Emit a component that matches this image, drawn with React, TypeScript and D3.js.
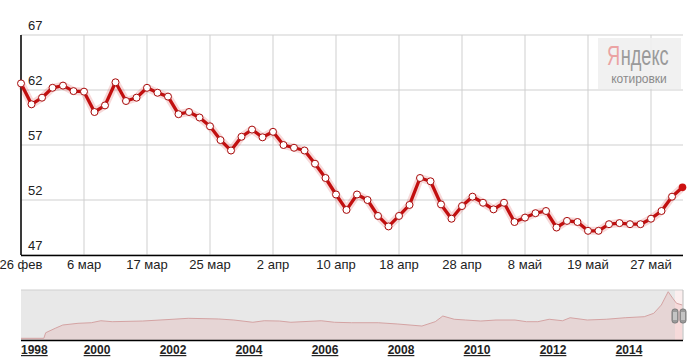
import React from 'react';
import * as d3 from 'd3';

// daily USD/RUB closes, 26 Feb - 1 Jun (trading days)
const rates = [
  62.6, 60.7, 61.3, 62.2, 62.4, 61.9, 61.85, 60.0, 60.6, 62.7,
  61.0, 61.3, 62.2, 61.75, 61.4, 59.8, 60.0, 59.5, 58.7, 57.45,
  56.5, 57.75, 58.4, 57.7, 58.2, 57.0, 56.75, 56.5, 55.3, 54.0,
  52.5, 51.1, 52.5, 52.0, 50.55, 49.6, 50.55, 51.55, 54.0, 53.7,
  51.6, 50.3, 51.45, 52.3, 51.75, 51.15, 51.75, 50.0, 50.4, 50.8,
  51.0, 49.5, 50.1, 50.0, 49.2, 49.2, 49.8, 49.9, 49.8, 49.8,
  50.3, 51.0, 52.3, 53.15,
];
const dateLabels = ['26 фев', '6 мар', '17 мар', '25 мар', '2 апр', '10 апр', '18 апр', '28 апр', '8 май', '19 май', '27 май'];
const yTicks = [47, 52, 57, 62, 67];

// long-term navigator series
const navYears = [
  1998.0, 1998.6, 1998.65, 1998.9, 1999.1, 1999.5, 1999.85, 2000.1, 2000.4, 2001.2,
  2002.0, 2002.4, 2003.2, 2003.6, 2004.1, 2004.4, 2004.8, 2005.1, 2005.9, 2006.25,
  2006.7, 2007.4, 2007.9, 2008.55, 2008.9, 2009.1, 2009.4, 2009.7, 2010.1, 2010.5,
  2011.0, 2011.3, 2011.6, 2011.9, 2012.25, 2012.45, 2012.9, 2013.4, 2013.9, 2014.4,
  2014.65, 2014.85, 2015.03, 2015.15, 2015.25, 2015.4,
];
const navValues = [
  6.3, 6.3, 13.9, 19.9, 24.4, 26.7, 27.5, 30.2, 28.9, 29.8,
  32.2, 33.5, 32.6, 31.2, 28.1, 30.2, 29.8, 28.1, 30.2, 28.1,
  27.5, 27.5, 25.8, 23.0, 28.9, 36.6, 32.2, 31.2, 29.8, 31.2,
  31.2, 28.9, 28.9, 32.2, 30.2, 34.3, 31.2, 32.2, 34.3, 35.7,
  40.3, 51.6, 69.7, 60.7, 53.9, 51.6,
];
const navYearLabels = [1998, 2000, 2002, 2004, 2006, 2008, 2010, 2012, 2014];

const font = 'Arial, "Liberation Sans", sans-serif';

const App = () => {
  const left = 21, right = 683;
  const x = d3.scaleLinear().domain([0, rates.length - 1]).range([left, 682.5]);
  const y = d3.scaleLinear().domain([47, 67]).range([255, 35]);

  const line = d3.line<number>()
    .x((d, i) => x(i))
    .y(d => y(d));

  const nx = d3.scaleLinear().domain([1998.0, 2015.42]).range([left, right]);
  const ny = d3.scaleLinear().domain([4, 72]).range([340, 290]);
  const navPts = navYears.map((yr, i) => [yr, navValues[i]] as [number, number]);
  const navLine = d3.line<[number, number]>().x(d => nx(d[0])).y(d => ny(d[1]));
  const navArea = d3.area<[number, number]>().x(d => nx(d[0])).y0(340).y1(d => ny(d[1]));
  const selStart = 675;

  return (
    <svg width={692} height={362} style={{ position: 'absolute', left: 0, top: 0, background: '#fff' }}>
      {/* grid */}
      {yTicks.map(t => (
        <line key={'gy' + t} x1={left} x2={right} y1={y(t)} y2={y(t)} stroke="#cfcfcf" />
      ))}
      {dateLabels.map((lab, i) => (
        <line key={'gx' + i} x1={x(i * 6)} x2={x(i * 6)} y1={35} y2={255} stroke="#cfcfcf" />
      ))}

      {/* logo */}
      <rect x={598} y={38} width={83} height={51} fill="#f0f0f0" opacity={0.9} />
      <g transform="translate(607,65) scale(0.65,1)">
        <text x={0} y={0} fontFamily={font} fontSize={28} fill="#eba3a3">Я</text>
        <text x={21} y={0} fontFamily={font} fontSize={28} fill="#9a9a9a">ндекс</text>
      </g>
      <text x={639} y={83} fontFamily={font} fontSize={12} fill="#8a8a8a" textAnchor="middle">котировки</text>

      {/* axes */}
      <line x1={left} x2={left} y1={35} y2={255} stroke="#000" strokeWidth={1.5} />
      <line x1={left} x2={right} y1={255.5} y2={255.5} stroke="#000" strokeWidth={1.5} />

      {yTicks.map(t => (
        <text key={'ly' + t} x={28} y={y(t) - 5} fontFamily={font} fontSize={13} fill="#222">{t}</text>
      ))}
      {dateLabels.map((lab, i) => (
        <text key={'lx' + i} x={x(i * 6)} y={269} fontFamily={font} fontSize={13} fill="#222" textAnchor="middle">{lab}</text>
      ))}

      {/* series */}
      <path d={line(rates) || ''} fill="none" stroke="#cc0000" strokeOpacity={0.15} strokeWidth={8} strokeLinejoin="round" />
      <path d={line(rates) || ''} fill="none" stroke="#c20f0f" strokeWidth={3.3} strokeLinejoin="round" />
      {rates.slice(0, -1).map((v, i) => (
        <circle key={'p' + i} cx={x(i)} cy={y(v)} r={3.5} fill="#fff" stroke="#a80d0d" strokeWidth={1} />
      ))}
      <circle cx={x(rates.length - 1)} cy={y(rates[rates.length - 1])} r={3.8} fill="#cc1111" />

      {/* navigator */}
      <rect x={left} y={290} width={selStart - left} height={50} fill="#e8e8e8" />
      <rect x={selStart} y={290} width={right - selStart} height={50} fill="#fbeeee" />
      <line x1={left} x2={right} y1={290} y2={290} stroke="#cfcfcf" />
      <path d={navArea(navPts) || ''} fill="#d77" fillOpacity={0.16} />
      <path d={navLine(navPts) || ''} fill="none" stroke="#d4a3a3" strokeWidth={1} />
      <line x1={right} x2={right} y1={290} y2={340} stroke="#bbb" />
      <line x1={left} x2={right} y1={340.5} y2={340.5} stroke="#000" strokeWidth={1.5} />
      {[selStart, right].map(hx => (
        <g key={'h' + hx}>
          <rect x={hx - 3} y={309} width={6} height={14} rx={2.5} fill="#9a9a9a" stroke="#7a7a7a" />
          <line x1={hx - 1} x2={hx - 1} y1={312} y2={320} stroke="#eee" />
          <line x1={hx + 1} x2={hx + 1} y1={312} y2={320} stroke="#eee" />
        </g>
      ))}
      {navYearLabels.map((yr, i) => (
        <text key={'ny' + yr} x={i === 0 ? left : nx(yr)} y={354} fontFamily={font} fontSize={12}
          fontWeight="bold" fill="#222" textDecoration="underline" textAnchor={i === 0 ? 'start' : 'middle'}>
          {yr}
        </text>
      ))}
    </svg>
  );
};

export default App;
